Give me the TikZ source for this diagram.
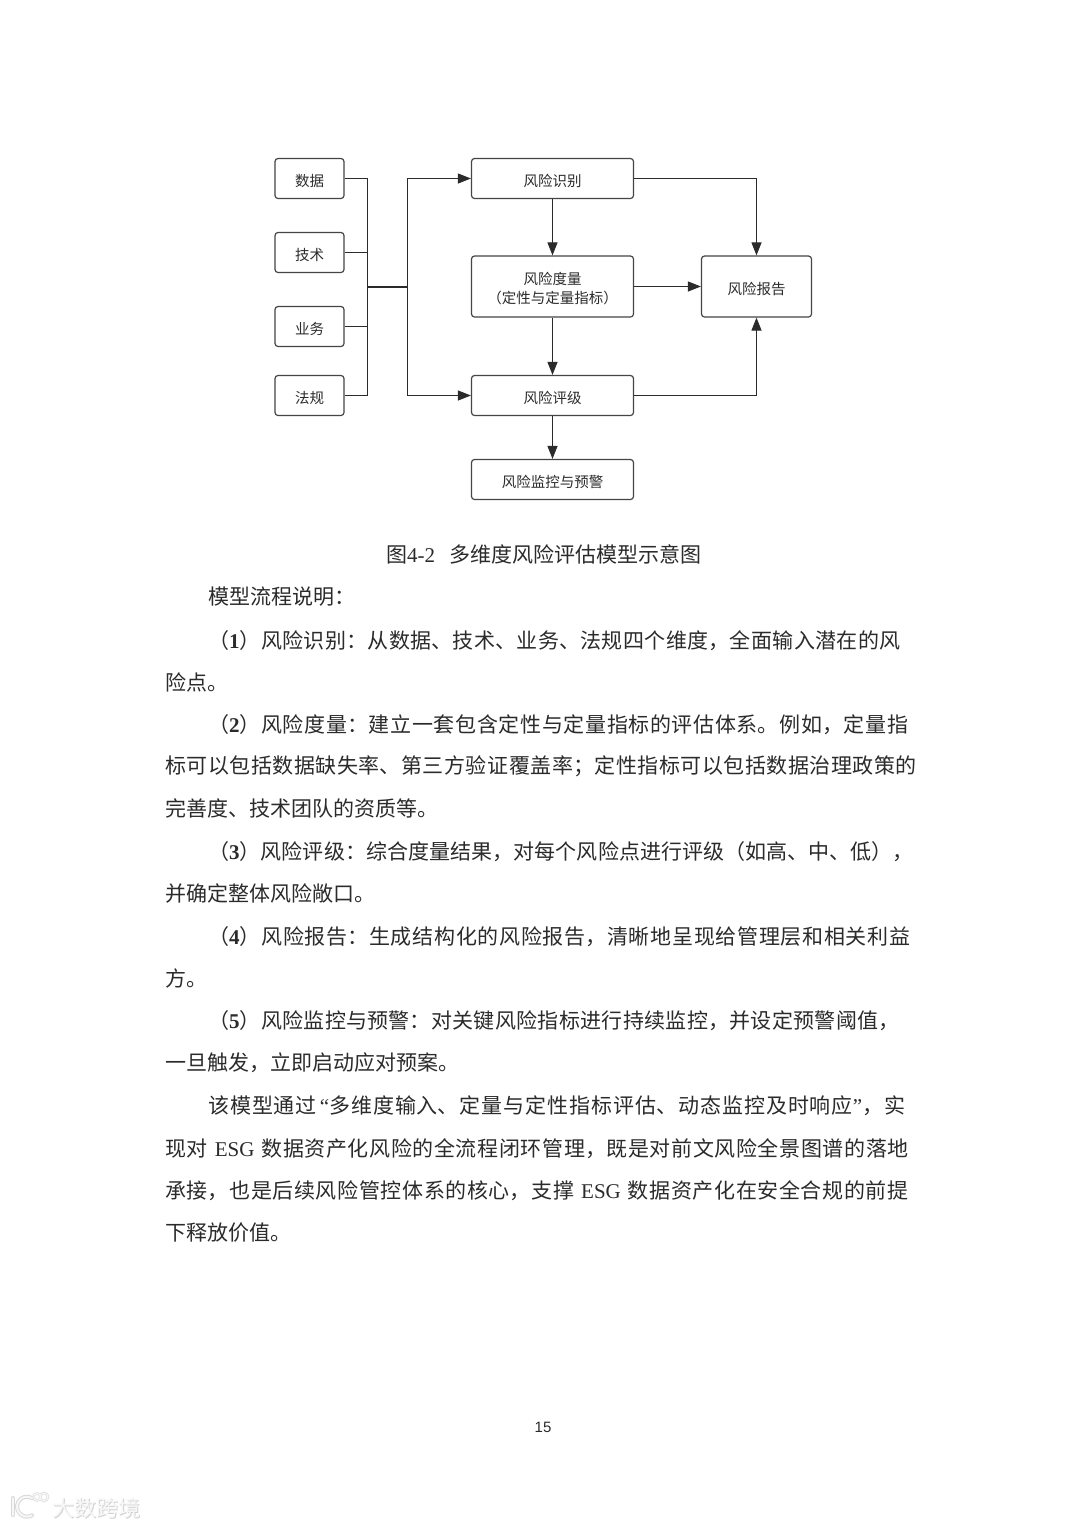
\documentclass[tikz,border=0pt]{standalone}
\usepackage{fontspec}
\usepackage{tikz}
\usetikzlibrary{arrows.meta, calc}
\setmainfont{Noto Sans CJK SC}
\newfontfamily\latinfont{Liberation Serif}
\newfontfamily\pagefont{Liberation Sans}
\newcommand{\lat}[1]{{\latinfont #1}}
\newcommand{\numlabel}[1]{（{\latinfont\bfseries #1}）}
\definecolor{boxline}{HTML}{454545}
\definecolor{inkgray}{HTML}{2B2B2B}
\XeTeXlinebreaklocale "zh"
\XeTeXlinebreakskip=0pt plus 3pt minus 1pt
\tolerance=9999
\tikzset{
  riskbox/.style={draw=boxline, line width=1.2pt, rounded corners=3pt, fill=white, inner sep=0pt, align=center, text=inkgray, text height=17pt, text depth=1.7pt, font=\fontsize{14.5}{19}\selectfont},
  inputbox/.style={riskbox, minimum width=69pt, minimum height=40pt},
  stagebox/.style={riskbox, minimum width=162pt, minimum height=40pt},
  link/.style={draw=inkgray, line width=1pt},
  linkarrow/.style={link, -{Triangle[length=13pt,width=10pt]}},
  bodyline/.style={anchor=west, inner sep=0pt, yshift=-0.5pt, text=inkgray, font=\fontsize{21}{25}\selectfont},
  fullline/.style={bodyline, execute at begin node={\parfillskip=0pt\relax}},
  wmark/.style={inner sep=0pt, font=\fontsize{22}{24}\selectfont},
}
\begin{document}
\begin{tikzpicture}[x=1pt, y=-1pt]
\useasboundingbox (0,0) rectangle (1080,1527);
\fill[white] (0,0) rectangle (1080,1527);

%.... inputs
\node[inputbox] (data) at (309.5,178.5) {数据};
\node[inputbox] (tech) at (309.5,252.5) {技术};
\node[inputbox] (biz) at (309.5,326.5) {业务};
\node[inputbox] (law) at (309.5,395.5) {法规};

%.... stages
\node[stagebox] (identify) at (552.5,178.5) {风险识别};
\node[stagebox, minimum height=61pt, text height=36pt] (measure) at (552.5,286.5) {风险度量\\（定性与定量指标）};
\node[stagebox] (rating) at (552.5,395.5) {风险评级};
\node[stagebox] (monitor) at (552.5,479.5) {风险监控与预警};
\node[riskbox, minimum width=110pt, minimum height=61pt] (report) at (756.5,286.5) {风险报告};

\coordinate (busa) at (367.5,287);
\coordinate (busb) at (407.5,287);

\draw[link] (data.east) -| (busa);
\draw[link] (tech.east) -- (tech.east -| busa);
\draw[link] (biz.east) -- (biz.east -| busa);
\draw[link] (law.east) -| (busa);
\draw[link, line width=2.2pt] (busa) -- (busb);
\draw[linkarrow] (busb) |- (identify.west);
\draw[linkarrow] (busb) |- (rating.west);
\draw[linkarrow] (identify.south) -- (measure.north);
\draw[linkarrow] (measure.south) -- (rating.north);
\draw[linkarrow] (rating.south) -- (monitor.north);
\draw[linkarrow] (measure.east) -- (report.west);
\draw[linkarrow] (identify.east) -| (report.north);
\draw[linkarrow] (rating.east) -| (report.south);

\node[text=inkgray, inner sep=0pt, font=\fontsize{21}{25}\selectfont] (caption) at (544,554) {图\lat{4-2}\hspace{15pt}多维度风险评估模型示意图};

%.... justified lines of the text
\foreach \idx/\xpos/\ypos/\linew/\linetxt in {
  a/208/640/698/{\numlabel{1}风险识别：从数据、技术、业务、法规四个维度，全面输入潜在的风},
  b/208/724/709/{\numlabel{2}风险度量：建立一套包含定性与定量指标的评估体系。例如，定量指},
  c/165/766/759/{标可以包括数据缺失率、第三方验证覆盖率；定性指标可以包括数据治理政策的},
  d/208/851/707/{\numlabel{3}风险评级：综合度量结果，对每个风险点进行评级（如高、中、低），},
  e/208/936/712/{\numlabel{4}风险报告：生成结构化的风险报告，清晰地呈现给管理层和相关利益},
  f/208/1020/696/{\numlabel{5}风险监控与预警：对关键风险指标进行持续监控，并设定预警阈值，},
  g/208/1105/710/{该模型通过\hspace{3pt}\lat{“}多维度输入、定量与定性指标评估、动态监控及时响应\lat{”}，实},
  h/165/1148/752/{现对 \lat{ESG} 数据资产化风险的全流程闭环管理，既是对前文风险全景图谱的落地},
  i/165/1190/752/{承接，也是后续风险管控体系的核心，支撑 \lat{ESG} 数据资产化在安全合规的前提}
}{
  \node[fullline, text width=\linew pt] (line\idx) at (\xpos,\ypos) {\linetxt};
}

%.... short lines
\foreach \idx/\xpos/\ypos/\linetxt in {
  j/208/596/{模型流程说明：},
  k/165/682/{险点。},
  l/165/808/{完善度、技术团队的资质等。},
  m/165/893/{并确定整体风险敞口。},
  n/165/978/{方。},
  o/165/1062/{一旦触发，立即启动应对预案。},
  p/165/1232/{下释放价值。}
}{
  \node[bodyline] (line\idx) at (\xpos,\ypos) {\linetxt};
}

\node[text=inkgray, inner sep=0pt, font=\pagefont\fontsize{15}{18}\selectfont] (pagenum) at (543,1427) {15};

%.... watermark
\foreach \wmcol/\wmw in {gray!30/4, gray!6/2}{
  \draw[\wmcol, line width=\wmw pt, line cap=round] (13,1498) -- (13,1515);
  \draw[\wmcol, line width=\wmw pt, line cap=round] (32,1498) arc[start angle=60, end angle=300, radius=10pt];
  \draw[\wmcol, line width=0.6*\wmw pt] (37,1497) circle[radius=3.5pt] (44,1497) circle[radius=4pt];
}
\node[wmark, text=gray!35] (wmshade) at (97,1508.8) {大数跨境};
\node[wmark, text=gray!6] (wmtext) at (96.4,1508) {大数跨境};
\end{tikzpicture}
\end{document}
